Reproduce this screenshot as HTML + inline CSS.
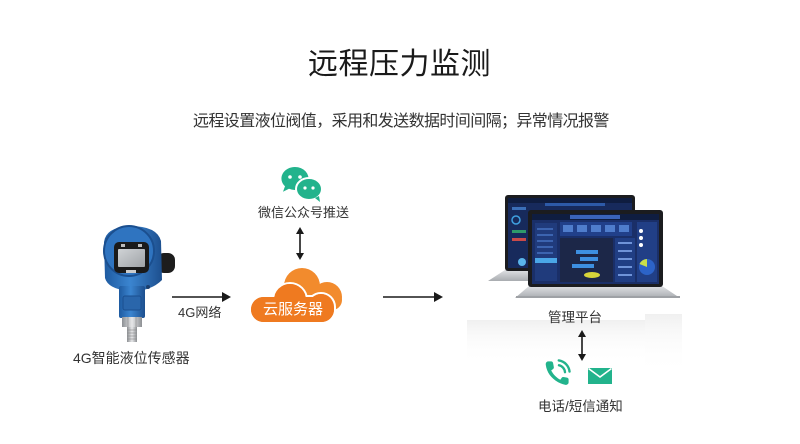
<!DOCTYPE html>
<html><head><meta charset="utf-8">
<style>
html,body{margin:0;padding:0;background:#fff;}
body{width:800px;height:444px;position:relative;overflow:hidden;font-family:"Liberation Sans","Noto Sans CJK SC",sans-serif;color:#333;}
.t{position:absolute;white-space:nowrap;line-height:1;}
</style></head><body>
<svg width="800" height="444" style="position:absolute;left:0;top:0" xmlns="http://www.w3.org/2000/svg">
<defs>
<linearGradient id="refl" x1="0" y1="0" x2="0" y2="1">
<stop offset="0" stop-color="#ececec" stop-opacity="0.8"/>
<stop offset="0.35" stop-color="#f4f4f4" stop-opacity="0.5"/>
<stop offset="1" stop-color="#fff" stop-opacity="0"/>
</linearGradient>
<linearGradient id="silver" x1="0" y1="0" x2="0" y2="1">
<stop offset="0" stop-color="#dfe1e4"/><stop offset="1" stop-color="#a9acb0"/>
</linearGradient>
<linearGradient id="metal" x1="0" y1="0" x2="1" y2="0">
<stop offset="0" stop-color="#8d9094"/><stop offset="0.5" stop-color="#e6e7e8"/><stop offset="1" stop-color="#8d9094"/>
</linearGradient>
<linearGradient id="lcd" x1="0" y1="0" x2="1" y2="1">
<stop offset="0" stop-color="#d0d3d6"/><stop offset="1" stop-color="#9fa3a7"/>
</linearGradient>
<linearGradient id="blue" x1="0" y1="0" x2="1" y2="0">
<stop offset="0" stop-color="#1e5aa0"/><stop offset="0.45" stop-color="#3b85d0"/><stop offset="1" stop-color="#1d4f8e"/>
</linearGradient>
</defs>

<!-- reflection region -->
<rect x="467" y="320" width="178" height="45" fill="url(#refl)"/>
<rect x="645" y="314" width="37" height="60" fill="url(#refl)"/>

<!-- Sensor -->
<rect x="157" y="253" width="18" height="20" rx="7" fill="#1d1d1d"/>
<path d="M104,242 Q106,227 130,226 Q157,226 161,241 L162,280 Q150,292 129,291 Q108,289 105,278 Z" fill="url(#blue)"/>
<circle cx="129" cy="251" r="25" fill="#2f74c0" stroke="#1b4f8f" stroke-width="2"/>
<rect x="114" y="242" width="35" height="31" rx="5" fill="#1a1a1a"/>
<rect x="118" y="249" width="27" height="18" rx="1" fill="url(#lcd)"/>
<rect x="121" y="244" width="4" height="3" fill="#bbb"/>
<rect x="138" y="244" width="4" height="3" fill="#bbb"/>
<rect x="126" y="270" width="10" height="3" fill="#ccc"/>
<rect x="119" y="286" width="26" height="32" rx="2" fill="url(#blue)"/>
<rect x="123" y="296" width="18" height="14" rx="2" fill="#2a66ab" stroke="#1b4f8f"/>
<circle cx="148" cy="287" r="2" fill="#1b3f6e"/>
<rect x="122" y="317" width="20" height="10" fill="url(#metal)"/>
<line x1="128" y1="317" x2="128" y2="327" stroke="#888" stroke-width="0.6"/>
<line x1="136" y1="317" x2="136" y2="327" stroke="#888" stroke-width="0.6"/>
<rect x="127" y="327" width="10" height="15" fill="url(#metal)"/>
<g stroke="#888" stroke-width="0.6">
<line x1="127" y1="330" x2="137" y2="330"/><line x1="127" y1="333" x2="137" y2="333"/><line x1="127" y1="336" x2="137" y2="336"/><line x1="127" y1="339" x2="137" y2="339"/>
</g>

<!-- 4G arrow -->
<line x1="172" y1="297" x2="224" y2="297" stroke="#1a1a1a" stroke-width="1.6"/>
<polygon points="222,292 231,297 222,302" fill="#1a1a1a"/>

<!-- WeChat -->
<path d="M295,167 a13.5,11.5 0 1 1 -6,21.8 l-6,3 l2,-5.5 a13.5,11.5 0 0 1 10,-19.3 z" fill="#22b38c"/>
<ellipse cx="309" cy="189" rx="13" ry="11" fill="#22b38c" stroke="#fff" stroke-width="2"/>
<path d="M315,198 l5,4 l-1,-6 z" fill="#22b38c"/>
<circle cx="290" cy="177" r="1.8" fill="#fff"/>
<circle cx="300" cy="177" r="1.8" fill="#fff"/>
<circle cx="305" cy="188" r="1.6" fill="#fff"/>
<circle cx="313" cy="188" r="1.6" fill="#fff"/>

<!-- vertical double arrow (wechat-cloud) -->
<line x1="300" y1="231" x2="300" y2="256" stroke="#1a1a1a" stroke-width="1.6"/>
<polygon points="296,234 300,227 304,234" fill="#1a1a1a"/>
<polygon points="296,253 300,260 304,253" fill="#1a1a1a"/>

<!-- Cloud -->
<g fill="#f28b2d">
<circle cx="302" cy="286" r="18"/>
<circle cx="327" cy="297" r="15"/>
<rect x="300" y="290" width="42" height="20" rx="10"/>
</g>
<g fill="#ef7a20" stroke="#fff" stroke-width="2">
<circle cx="290" cy="300" r="17"/>
<circle cx="321" cy="307" r="14"/>
<rect x="250" y="296" width="85" height="27" rx="13.5"/>
</g>
<g fill="#ef7a20">
<circle cx="290" cy="300" r="16"/>
<circle cx="321" cy="307" r="13"/>
<rect x="251" y="297" width="83" height="25" rx="12.5"/>
</g>

<!-- right arrow -->
<line x1="383" y1="297" x2="436" y2="297" stroke="#1a1a1a" stroke-width="1.6"/>
<polygon points="434,292 443,297 434,302" fill="#1a1a1a"/>

<!-- Back laptop -->
<polygon points="505,270 635,270 645,281 488,281" fill="url(#silver)"/>
<rect x="505" y="195" width="130" height="76" rx="3" fill="#1b1c1f"/>
<rect x="508" y="198" width="124" height="70" fill="#172a5c"/>
<rect x="508" y="198" width="124" height="5" fill="#0f1d40"/>
<rect x="512" y="207" width="14" height="3" fill="#3b6fb8"/>
<circle cx="516" cy="220" r="4" fill="none" stroke="#3fa0e0" stroke-width="1.5"/>
<rect x="512" y="230" width="14" height="3" fill="#2f9a6a"/>
<rect x="512" y="238" width="14" height="3" fill="#c94a4a"/>
<circle cx="522" cy="262" r="4" fill="#5ab5ea"/>
<rect x="545" y="203" width="60" height="3" fill="#2d5aa8"/>

<!-- Front laptop -->
<polygon points="529,286 662,286 680,298 515,298" fill="url(#silver)"/>
<rect x="516" y="296" width="164" height="2" fill="#9ea1a5"/>
<rect x="528" y="210" width="135" height="77" rx="3" fill="#1b1c1f"/>
<rect x="532" y="214" width="127" height="70" fill="#1a2f68"/>
<rect x="532" y="214" width="127" height="6" fill="#0f1d40"/>
<rect x="570" y="215" width="50" height="4" fill="#3a63b8"/>
<rect x="535" y="223" width="22" height="58" fill="#203b7c"/>
<g fill="#3c64b0">
<rect x="537" y="228" width="16" height="2"/><rect x="537" y="234" width="16" height="2"/><rect x="537" y="240" width="16" height="2"/><rect x="537" y="246" width="16" height="2"/><rect x="537" y="252" width="16" height="2"/>
</g>
<rect x="535" y="258" width="22" height="5" fill="#4aa7e8"/>
<rect x="560" y="222" width="72" height="14" fill="#21408a"/>
<g fill="#4f7dcc"><rect x="563" y="225" width="10" height="7"/><rect x="577" y="225" width="10" height="7"/><rect x="591" y="225" width="10" height="7"/><rect x="605" y="225" width="10" height="7"/><rect x="619" y="225" width="10" height="7"/></g>
<rect x="560" y="238" width="53" height="44" fill="#1c2748"/>
<g fill="#3d8fe0"><rect x="576" y="250" width="22" height="4"/><rect x="580" y="257" width="18" height="4"/><rect x="572" y="264" width="22" height="4"/></g>
<ellipse cx="592" cy="275" rx="8" ry="3" fill="#d6d43a"/>
<rect x="615" y="238" width="20" height="44" fill="#203e84"/>
<g fill="#6f93d8"><rect x="618" y="242" width="14" height="2"/><rect x="618" y="250" width="14" height="2"/><rect x="618" y="258" width="14" height="2"/><rect x="618" y="266" width="14" height="2"/><rect x="618" y="274" width="14" height="2"/></g>
<rect x="637" y="222" width="20" height="60" fill="#213f86"/>
<circle cx="641" cy="231" r="2" fill="#fff"/><circle cx="641" cy="238" r="2" fill="#fff"/><circle cx="641" cy="245" r="2" fill="#fff"/>
<circle cx="647" cy="267" r="8" fill="#2c63c8"/>
<path d="M647,267 L647,259 A8,8 0 0 0 639.5,264 Z" fill="#c9e04a"/>

<!-- vertical double arrow (platform-notify) -->
<line x1="582" y1="334" x2="582" y2="357" stroke="#1a1a1a" stroke-width="1.6"/>
<polygon points="578,337 582,330 586,337" fill="#1a1a1a"/>
<polygon points="578,354 582,361 586,354" fill="#1a1a1a"/>

<!-- phone -->
<g transform="translate(544,359) scale(1.2)">
<path d="M3.5,2 C2.3,2 1.2,3.2 1.5,5 C2.5,13 9,19.5 17.5,21.5 C19.2,21.9 20.5,20.8 20.5,19.5 L20.5,17 C20.5,16.2 19.9,15.6 19.2,15.5 L16.2,15 C15.6,14.9 15,15.2 14.7,15.7 L13.6,17.3 C10.5,15.8 7.4,12.5 6,9.5 L7.5,8.4 C8,8 8.3,7.4 8.2,6.8 L7.6,3.5 C7.5,2.7 6.8,2 6,2 Z" fill="#22b38c"/>
<path d="M12.5,5.2 A6.5,6.5 0 0 1 17.5,11" fill="none" stroke="#22b38c" stroke-width="2" stroke-linecap="round"/>
<path d="M12.3,1.2 A10.5,10.5 0 0 1 21.3,10.5" fill="none" stroke="#22b38c" stroke-width="2" stroke-linecap="round"/>
</g>
<!-- envelope -->
<rect x="588" y="368" width="24" height="16" fill="#22b38c"/>
<polyline points="588.5,368.5 600,377 611.5,368.5" fill="none" stroke="#fff" stroke-width="1.6"/>
</svg>

<div class="t" style="left:308px;top:50px;font-size:30px;color:#1a1a1a;letter-spacing:0.5px;">远程压力监测</div>
<div class="t" style="left:193px;top:114px;font-size:16px;color:#333;letter-spacing:-0.6px;">远程设置液位阀值，采用和发送数据时间间隔；异常情况报警</div>
<div class="t" style="left:73px;top:351px;font-size:14px;color:#333;">4G智能液位传感器</div>
<div class="t" style="left:178px;top:306px;font-size:13px;color:#333;">4G网络</div>
<div class="t" style="left:258px;top:206px;font-size:13px;color:#333;">微信公众号推送</div>
<div class="t" style="left:263px;top:302px;font-size:15px;color:#fff;">云服务器</div>
<div class="t" style="left:548px;top:311px;font-size:13.5px;color:#333;">管理平台</div>
<div class="t" style="left:538px;top:400px;font-size:13.5px;color:#333;">电话/短信通知</div>
</body></html>
